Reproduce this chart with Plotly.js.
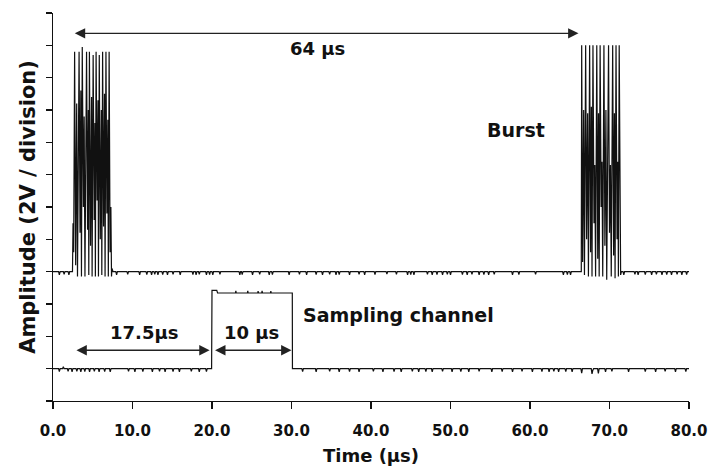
<!DOCTYPE html>
<html>
<head>
<meta charset="utf-8">
<script src="https://cdn.plot.ly/plotly-3.0.1.min.js"></script>
<style>html,body{margin:0;padding:0;background:#fff;}#chart{width:708px;height:471px;}</style>
</head>
<body>
<div id="chart"></div>
<script>
// ---------- Data (amplitude in divisions, time in µs) ----------
// Burst channel: baseline before first burst
const burstPreT = [0, 0.7, 0.8, 0.9, 1.3, 1.4, 1.5, 1.9, 2.0, 2.1, 2.45];
const burstPreA = [4.0, 4.0, 3.9, 4.0, 4.0, 3.92, 4.0, 4.0, 3.9, 4.0, 4.0];
// First burst
const burst1T = [2.52, 2.60, 2.72, 2.85, 2.98, 3.08, 3.28, 3.40, 3.50, 3.58, 3.68, 3.82, 3.92, 4.02, 4.22, 4.35, 4.45, 4.50, 4.58, 4.72, 4.85, 4.92, 5.05, 5.18, 5.28, 5.33, 5.42, 5.55, 5.66, 5.72, 5.82, 5.95, 6.08, 6.14, 6.24, 6.36, 6.48, 6.55, 6.66, 6.78, 6.90, 6.96, 7.06, 7.18, 7.28, 7.36, 7.42, 7.55];
const burst1A = [5.5, 4.6, 10.8, 4.2, 9.2, 3.85, 10.8, 5.2, 9.6, 3.85, 10.95, 6.0, 8.8, 3.85, 10.8, 5.3, 9.0, 3.9, 10.8, 4.8, 9.4, 3.85, 10.7, 5.6, 8.6, 3.85, 10.8, 6.2, 9.3, 3.85, 10.7, 5.0, 9.0, 3.9, 10.8, 5.4, 9.5, 3.85, 10.8, 5.8, 8.7, 3.85, 10.8, 4.6, 6.0, 3.85, 4.1, 4.0];
// Baseline between bursts
const burstGapT = [
  7.9, 8.0, 8.1,  9.3, 9.4, 9.5,  10.8, 10.9, 11.0,  11.7, 11.8, 11.9,  12.3, 12.4, 12.5,
  12.7, 12.8, 12.9,  13.1, 13.2, 13.3,  13.7, 13.8, 13.9,  14.3, 14.4, 14.5,  15.0, 15.1, 15.2,
  15.9, 16.0, 16.1,  17.5, 17.6, 17.7,  17.9, 18.0, 18.1,  18.3, 18.4, 18.5,  19.2, 19.3, 19.4,
  19.6, 19.7, 19.8,  20.0, 20.1, 20.2,  20.9, 21.0, 21.1,  23.4, 23.5, 23.6,  23.7, 23.8, 23.9,
  25.0, 25.1, 25.2,  25.9, 26.0, 26.1,  27.1, 27.2, 27.3,  27.5, 27.6, 27.7,  29.6, 29.7, 29.8,
  30.9, 31.0, 31.1,  31.8, 31.9, 32.0,  33.0, 33.1, 33.2,  33.8, 33.9, 34.0,  34.7, 34.8, 34.9,
  35.5, 35.6, 35.7,  35.9, 36.0, 36.1,  37.2, 37.3, 37.4,  38.4, 38.5, 38.6,  39.1, 39.2, 39.3,
  40.4, 40.5, 40.6,  41.9, 42.0, 42.1,  43.1, 43.2, 43.3,  44.5, 44.6, 44.7,  44.9, 45.0, 45.1,
  45.3, 45.4, 45.5,  47.0, 47.1, 47.2,  47.6, 47.7, 47.8,  48.2, 48.3, 48.4,  48.9, 49.0, 49.1,
  49.5, 49.6, 49.7,  49.9, 50.0, 50.1,  51.4, 51.5, 51.6,  52.0, 52.1, 52.2,  52.6, 52.7, 52.8,
  53.5, 53.6, 53.7,  54.1, 54.2, 54.3,  54.7, 54.8, 54.9,  55.4, 55.5, 55.6,  57.7, 57.8, 57.9,
  58.5, 58.6, 58.7,  60.6, 60.7, 60.8,  64.1, 64.2, 64.3,  64.6, 64.7, 64.8,  65.0, 65.1, 65.2,
  66.45];
const burstGapA = [
  4.0, 3.9, 4.0,  4.0, 3.92, 4.0,  4.0, 3.9, 4.0,  4.0, 3.91, 4.0,  4.0, 3.9, 4.0,
  4.0, 3.92, 4.0,  4.0, 3.9, 4.0,  4.0, 3.91, 4.0,  4.0, 3.9, 4.0,  4.0, 3.92, 4.0,
  4.0, 3.9, 4.0,  4.0, 3.91, 4.0,  4.0, 3.9, 4.0,  4.0, 3.92, 4.0,  4.0, 3.9, 4.0,
  4.0, 3.91, 4.0,  4.0, 3.9, 4.0,  4.0, 3.92, 4.0,  4.0, 3.9, 4.0,  4.0, 3.91, 4.0,
  4.0, 3.9, 4.0,  4.0, 3.92, 4.0,  4.0, 3.9, 4.0,  4.0, 3.91, 4.0,  4.0, 3.9, 4.0,
  4.0, 3.92, 4.0,  4.0, 3.9, 4.0,  4.0, 3.91, 4.0,  4.0, 3.9, 4.0,  4.0, 3.92, 4.0,
  4.0, 3.9, 4.0,  4.0, 3.91, 4.0,  4.0, 3.9, 4.0,  4.0, 3.92, 4.0,  4.0, 3.9, 4.0,
  4.0, 3.91, 4.0,  4.0, 3.93, 4.0,  4.0, 3.92, 4.0,  4.0, 3.9, 4.0,  4.0, 3.91, 4.0,
  4.0, 3.9, 4.0,  4.0, 3.92, 4.0,  4.0, 3.9, 4.0,  4.0, 3.91, 4.0,  4.0, 3.9, 4.0,
  4.0, 3.92, 4.0,  4.0, 3.9, 4.0,  4.0, 3.91, 4.0,  4.0, 3.9, 4.0,  4.0, 3.92, 4.0,
  4.0, 3.9, 4.0,  4.0, 3.91, 4.0,  4.0, 3.9, 4.0,  4.0, 3.92, 4.0,  4.0, 3.9, 4.0,
  4.0, 3.91, 4.0,  4.0, 3.92, 4.0,  4.0, 3.9, 4.0,  4.0, 3.91, 4.0,  4.0, 3.9, 4.0,
  4.0];
// Second burst
const burst2T = [66.50, 66.62, 66.75, 66.85, 67.00, 67.12, 67.25, 67.35, 67.50, 67.62, 67.72, 67.80, 67.92, 68.05, 68.15, 68.25, 68.40, 68.52, 68.62, 68.70, 68.82, 68.95, 69.05, 69.15, 69.30, 69.42, 69.55, 69.65, 69.88, 70.00, 70.12, 70.22, 70.40, 70.52, 70.62, 70.70, 70.82, 70.95, 71.05, 71.12, 71.22, 71.32, 71.40, 71.50];
const burst2A = [11.0, 4.3, 9.0, 3.9, 11.0, 5.0, 8.9, 3.85, 11.0, 4.6, 9.1, 3.85, 11.0, 5.5, 7.3, 3.85, 11.0, 4.4, 8.9, 3.85, 11.0, 6.0, 7.4, 3.85, 11.0, 4.8, 9.0, 3.75, 11.0, 5.2, 7.3, 3.85, 11.0, 4.5, 8.9, 3.8, 11.0, 5.0, 7.4, 3.85, 11.0, 4.2, 3.9, 4.0];
// Baseline after second burst
const burstPostT = [71.7, 71.8, 71.9, 73.1, 73.2, 73.3, 73.5, 73.6, 73.7, 74.4, 74.5, 74.6, 75.2, 75.3, 75.4, 75.8, 75.9, 76.0, 76.5, 76.6, 76.7, 77.1, 77.2, 77.3, 77.7, 77.8, 77.9, 78.4, 78.5, 78.6, 79.0, 79.1, 79.2, 79.6, 79.7, 79.8, 80.0];
const burstPostA = [4.0, 3.9, 4.0, 4.0, 3.92, 4.0, 4.0, 3.9, 4.0, 4.0, 3.91, 4.0, 4.0, 3.9, 4.0, 4.0, 3.92, 4.0, 4.0, 3.9, 4.0, 4.0, 3.91, 4.0, 4.0, 3.9, 4.0, 4.0, 3.92, 4.0, 4.0, 3.9, 4.0, 4.0, 3.91, 4.0, 4.0];

// Sampling channel: baseline before the gate
const sampPreT = [
  0, 0.7, 0.8, 0.9, 1.2, 1.3, 1.4, 1.8, 1.9, 2.0, 2.3, 2.4, 2.5, 2.9, 3.0, 3.1,
  3.4, 3.5, 3.6, 3.9, 4.0, 4.1, 4.5, 4.6, 4.7, 5.1, 5.2, 5.3, 5.7, 5.8, 5.9,
  6.4, 6.5, 6.6, 7.1, 7.2, 7.3, 9.4, 9.5, 9.6, 10.2, 10.3, 10.4, 11.2, 11.3, 11.4,
  12.4, 12.5, 12.6, 13.3, 13.4, 13.5, 14.0, 14.1, 14.2, 15.0, 15.1, 15.2, 15.8, 15.9, 16.0,
  17.3, 17.4, 17.5, 18.3, 18.4, 18.5, 19.2, 19.3, 19.4, 19.95];
const sampPreA = [
  1.0, 1.0, 0.91, 1.0, 1.0, 1.06, 1.0, 1.0, 0.92, 1.0, 1.0, 0.9, 1.0, 1.0, 0.92, 1.0,
  1.0, 0.9, 1.0, 1.0, 0.91, 1.0, 1.0, 0.9, 1.0, 1.0, 0.92, 1.0, 1.0, 0.9, 1.0,
  1.0, 0.91, 1.0, 1.0, 0.9, 1.0, 1.0, 0.92, 1.0, 1.0, 0.9, 1.0, 1.0, 0.91, 1.0,
  1.0, 0.9, 1.0, 1.0, 0.92, 1.0, 1.0, 0.9, 1.0, 1.0, 0.91, 1.0, 1.0, 0.9, 1.0,
  1.0, 0.92, 1.0, 1.0, 0.9, 1.0, 1.0, 0.91, 1.0, 1.0];
// Sampling gate (20 to 30 µs)
const gateT = [20.0, 20.6, 20.7, 22.95, 23.0, 23.05, 24.45, 24.5, 24.55, 25.75, 25.8, 25.85, 26.25, 26.3, 26.35, 27.35, 27.4, 27.45, 30.1];
const gateA = [3.42, 3.42, 3.34, 3.34, 3.41, 3.34, 3.34, 3.41, 3.34, 3.34, 3.4, 3.34, 3.34, 3.41, 3.34, 3.34, 3.4, 3.34, 3.34];
// Sampling channel: baseline after the gate
const sampPostT = [
  30.12, 31.3, 31.4, 31.5, 33.0, 33.1, 33.2, 34.7, 34.8, 34.9, 35.9, 36.0, 36.1, 37.2, 37.3, 37.4,
  38.4, 38.5, 38.6, 40.2, 40.3, 40.4, 41.4, 41.5, 41.6, 42.8, 42.9, 43.0, 43.7, 43.8, 43.9,
  45.1, 45.2, 45.3, 45.9, 46.0, 46.1, 46.8, 46.9, 47.0, 47.6, 47.7, 47.8, 48.9, 49.0, 49.1,
  50.1, 50.2, 50.3, 51.2, 51.3, 51.4, 52.2, 52.3, 52.4, 53.5, 53.6, 53.7, 55.1, 55.2, 55.3,
  56.4, 56.5, 56.6, 57.7, 57.8, 57.9, 58.9, 59.0, 59.1, 60.2, 60.3, 60.4, 61.4, 61.5, 61.6,
  62.3, 62.4, 62.5, 62.9, 63.0, 63.1, 63.5, 63.6, 63.7, 64.4, 64.5, 64.6, 65.2, 65.3, 65.4,
  66.4, 66.5, 66.6, 67.7, 67.8, 67.9, 68.0, 68.5, 68.6, 68.7, 69.4, 69.5, 69.6, 70.2, 70.3, 70.4,
  72.3, 72.4, 72.5, 74.4, 74.5, 74.6, 75.7, 75.8, 75.9, 76.9, 77.0, 77.1, 78.2, 78.3, 78.4,
  79.5, 79.6, 79.7, 80.0];
const sampPostA = [
  1.0, 1.0, 0.91, 1.0, 1.0, 0.9, 1.0, 1.0, 0.92, 1.0, 1.0, 0.9, 1.0, 1.0, 0.91, 1.0,
  1.0, 0.9, 1.0, 1.0, 0.92, 1.0, 1.0, 0.9, 1.0, 1.0, 0.91, 1.0, 1.0, 0.9, 1.0,
  1.0, 0.92, 1.0, 1.0, 0.9, 1.0, 1.0, 0.91, 1.0, 1.0, 0.9, 1.0, 1.0, 0.92, 1.0,
  1.0, 0.9, 1.0, 1.0, 0.91, 1.0, 1.0, 0.9, 1.0, 1.0, 0.92, 1.0, 1.0, 0.9, 1.0,
  1.0, 0.91, 1.0, 1.0, 0.9, 1.0, 1.0, 0.92, 1.0, 1.0, 0.9, 1.0, 1.0, 0.91, 1.0,
  1.0, 0.9, 1.0, 1.0, 0.92, 1.0, 1.0, 0.9, 1.0, 1.0, 0.91, 1.0, 1.0, 0.9, 1.0,
  1.0, 0.86, 1.0, 1.0, 0.84, 0.95, 1.0, 1.0, 0.85, 1.0, 1.0, 0.9, 1.0, 1.0, 0.92, 1.0,
  1.0, 0.9, 1.0, 1.0, 0.91, 1.0, 1.0, 0.9, 1.0, 1.0, 0.92, 1.0, 1.0, 0.9, 1.0,
  1.0, 0.91, 1.0, 1.0];

// Axis ticks
const xTickVals = [0, 10, 20, 30, 40, 50, 60, 70, 80];
const xTickText = ['0.0', '10.0', '20.0', '30.0', '40.0', '50.0', '60.0', '70.0', '80.0'];

// Span markers [start, end, level] and labels
const span64 = [2.55, 66.1, 11.37];
const span175 = [2.76, 19.7, 1.57];
const span10 = [20.2, 30.0, 1.57];
const labels = [
  {text: '64 µs', x: 33.3, y: 10.9, anchor: 'center', size: 18},
  {text: '17.5µs', x: 11.5, y: 2.13, anchor: 'center', size: 18},
  {text: '10 µs', x: 25.0, y: 2.13, anchor: 'center', size: 18},
  {text: 'Sampling channel', x: 31.2, y: 2.65, anchor: 'left', size: 19},
  {text: 'Burst', x: 58.3, y: 8.37, anchor: 'center', size: 19}
];

// ---------- Build traces ----------
const burstT = [].concat(burstPreT, burst1T, burstGapT, burst2T, burstPostT);
const burstA = [].concat(burstPreA, burst1A, burstGapA, burst2A, burstPostA);
const sampT = [].concat(sampPreT, gateT, sampPostT);
const sampA = [].concat(sampPreA, gateA, sampPostA);

const lineStyle = {color: '#111', width: 1.2};
const traces = [
  {x: burstT, y: burstA, type: 'scatter', mode: 'lines', line: lineStyle, name: 'Burst', hoverinfo: 'skip'},
  {x: sampT, y: sampA, type: 'scatter', mode: 'lines', line: lineStyle, name: 'Sampling channel', hoverinfo: 'skip'}
];

const FONT = 'DejaVu Sans, Arial, sans-serif';
function spanArrow(s) {
  return {x: s[1], y: s[2], ax: s[0], ay: s[2], xref: 'x', yref: 'y', axref: 'x', ayref: 'y',
    text: '', showarrow: true, arrowside: 'end+start', arrowhead: 2, startarrowhead: 2,
    arrowsize: 1.6, startarrowsize: 1.6, arrowwidth: 1.3, arrowcolor: '#222'};
}
const annotations = [spanArrow(span64), spanArrow(span175), spanArrow(span10)].concat(
  labels.map(l => ({text: l.text, x: l.x, y: l.y, xref: 'x', yref: 'y', showarrow: false,
    xanchor: l.anchor, yanchor: 'middle',
    font: {family: FONT, size: l.size, weight: 'bold', color: '#111'}}))
);

const layout = {
  width: 708, height: 471,
  margin: {l: 53, r: 19, t: 13, b: 70},
  paper_bgcolor: '#fff', plot_bgcolor: '#fff',
  showlegend: false,
  xaxis: {
    range: [0, 80], tickvals: xTickVals, ticktext: xTickText,
    showgrid: false, zeroline: false, showline: true, linecolor: '#111', linewidth: 1.2,
    ticks: 'outside', ticklen: 7, tickwidth: 1.1, tickcolor: '#111',
    ticklabelstandoff: 9, ticklabeloverflow: 'allow',
    tickfont: {family: FONT, size: 15, weight: 'bold', color: '#111'},
    title: {text: 'Time (µs)', font: {family: FONT, size: 18, weight: 'bold', color: '#111'}, standoff: 10}
  },
  xaxis2: {
    overlaying: 'x', anchor: 'y', side: 'bottom', range: [0, 80], tickvals: xTickVals,
    showticklabels: false, showgrid: false, zeroline: false, showline: false,
    ticks: 'inside', ticklen: 7, tickwidth: 1.1, tickcolor: '#111'
  },
  yaxis: {
    range: [0, 12], dtick: 1, tick0: 0, showticklabels: false,
    showgrid: false, zeroline: false, showline: true, linecolor: '#111', linewidth: 1.2,
    ticks: 'outside', ticklen: 6, tickwidth: 1.1, tickcolor: '#111',
    title: {text: 'Amplitude (2V / division)', font: {family: FONT, size: 21, weight: 'bold', color: '#111'}, standoff: 4}
  },
  annotations: annotations
};

Plotly.newPlot('chart', traces, layout, {staticPlot: true, displayModeBar: false});
</script>
</body>
</html>
